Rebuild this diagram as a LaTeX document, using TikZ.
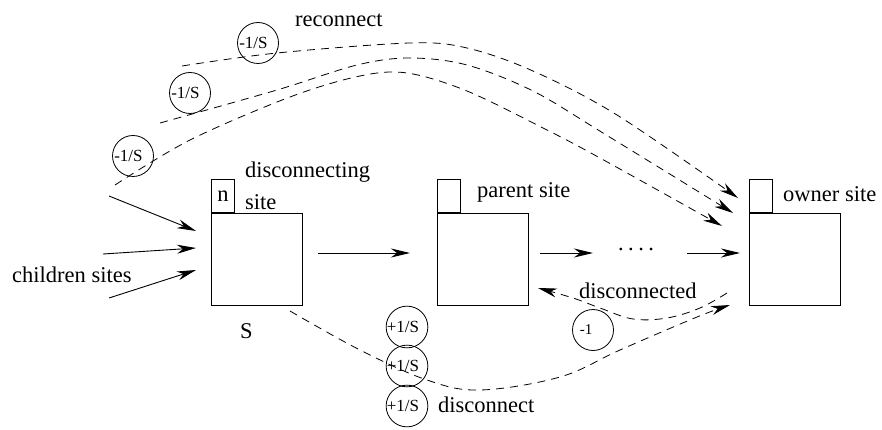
\documentclass[tikz,border=0pt]{standalone}
\usepackage{fontspec}
\setmainfont{DejaVu Serif}
\newfontfamily\timesface{Liberation Serif}
\usetikzlibrary{arrows.meta}
\begin{document}
\begin{tikzpicture}[x=1pt,y=-1pt,
  every node/.style={font=\timesface\fontsize{22.5}{27}\selectfont},
  sitebox/.style={draw, line width=0.9pt, minimum width=91pt, minimum height=92pt,
    inner sep=0pt, anchor=north west},
  tabbox/.style={draw, line width=0.9pt, minimum width=23pt, minimum height=33pt,
    inner sep=0pt, anchor=south west},
  tag/.style={anchor=base west, inner sep=0pt},
  counter/.style={draw, circle, line width=0.8pt, minimum size=41pt, inner sep=0pt,
    font=\timesface\fontsize{17}{20}\selectfont},
  tip/.style={-{Stealth[length=19pt,width=9pt,inset=6pt]}},
  link/.style={tip, line width=0.9pt},
  msg/.style={tip, line width=0.8pt, dash pattern=on 8pt off 6pt}
]
\path[use as bounding box] (0,0) rectangle (882,430);

% the three sites
\node[sitebox] (ds) at (211,213) {};
\node[tabbox] (dstab) at (ds.north west) {n};
\node[sitebox] (ps) at (437,213) {};
\node[tabbox] (pstab) at (ps.north west) {};
\node[sitebox] (os) at (749,213) {};
\node[tabbox] (ostab) at (os.north west) {};

% labels
\node[tag] (lreconnect) at (295,27) {reconnect};
\node[tag] (ldisc1) at (245,178) {disconnecting};
\node[tag] (ldisc2) at (245,210) {site};
\node[tag] (lchildren) at (12,282) {children sites};
\node[tag] (lS) at (240,338) {S};
\node[tag] (lparent) at (477,198) {parent site};
\node[tag] (lowner) at (783,202) {owner site};
\node[tag] (ldisconnected) at (579,298) {disconnected};
\node[tag] (ldisconnect) at (438,412) {disconnect};
\node[inner sep=0pt] (dots) at (636,249) {.\hspace{4.5pt}.\hspace{4.5pt}.\hspace{4.5pt}.};

% weight counters
\node[counter] (m1) at (258,43) {-1/S\kern9pt};
\node[counter] (m2) at (190,93) {-1/S\kern9pt};
\node[counter] (m3) at (133,156) {-1/S\kern9pt};
\node[counter] (p1) at (407,327) {+1/S\kern8pt};
\node[counter] (p2) at (407,366) {+1/S\kern8pt};
\node[counter] (p3) at (407,406) {+1/S\kern8pt};
\node[counter, font=\timesface\fontsize{15}{18}\selectfont] (m0) at (593,330) {-1\kern14pt};

% connector end points
\coordinate (c1s) at (109,196); \coordinate (c1e) at (196,231);
\coordinate (c2s) at (103,254); \coordinate (c2e) at (196,248);
\coordinate (c3s) at (109,298); \coordinate (c3e) at (196,270);
\coordinate (a1s) at (318,253); \coordinate (a1e) at (410,253);
\coordinate (a2s) at (540,253); \coordinate (a2e) at (593,253);
\coordinate (a3s) at (687,253); \coordinate (a3e) at (740,253);
\coordinate (r1s) at (182,66);  \coordinate (r1e) at (738,198);
\coordinate (r2s) at (160,123); \coordinate (r2e) at (733,213);
\coordinate (r3s) at (115,185); \coordinate (r3e) at (722,226);
\coordinate (ds1) at (727,293); \coordinate (ds2) at (538,288);
\coordinate (dc1) at (290,311); \coordinate (dc2) at (730,305);

% children attach to the disconnecting site
\draw[link] (c1s) -- (c1e);
\draw[link] (c2s) -- (c2e);
\draw[link] (c3s) -- (c3e);

% path towards the owner
\draw[link] (a1s) -- (a1e);
\draw[link] (a2s) -- (a2e);
\draw[link] (a3s) -- (a3e);

% reconnect messages
\draw[msg] plot[smooth, tension=0.55] coordinates
  {(r1s) (277,53) (410,43) (467,48) (533,71) (617,115) (r1e)};
\draw[msg] plot[smooth, tension=0.55] coordinates
  {(r2s) (277,90) (357,65) (410,58) (467,65) (533,91) (603,133) (r2e)};
\draw[msg] plot[smooth, tension=0.55] coordinates
  {(r3s) (190,140) (290,97) (360,76) (407,73) (467,91) (547,130) (600,158) (r3e)};

% disconnected acknowledgement
\draw[msg] plot[smooth, tension=0.6] coordinates
  {(ds1) (700,308) (667,318) (633,319) (600,308) (573,298) (ds2)};

% disconnect message
\draw[msg] plot[smooth, tension=0.6] coordinates
  {(dc1) (360,350) (427,380) (480,390) (560,377) (620,350) (697,317) (dc2)};
\end{tikzpicture}
\end{document}
